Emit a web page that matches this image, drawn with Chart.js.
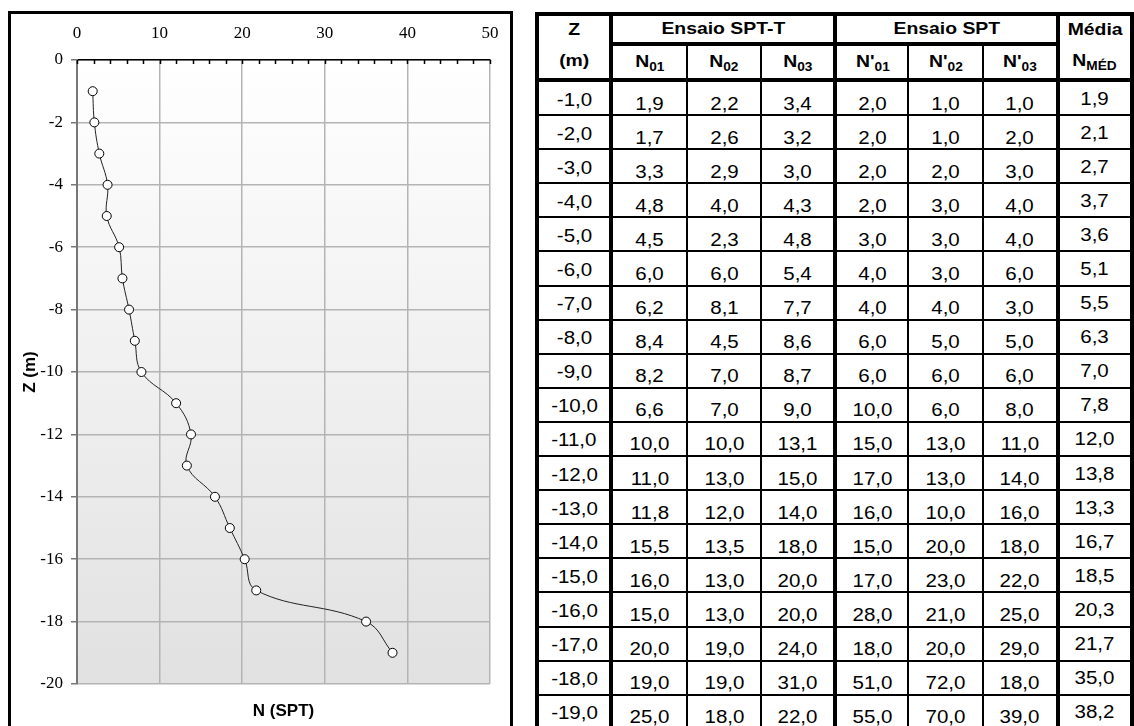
<!DOCTYPE html>
<html>
<head>
<meta charset="utf-8">
<script src="https://cdn.jsdelivr.net/npm/chart.js@4.4.0/dist/chart.umd.min.js"></script>
<style>
html, body { margin: 0; padding: 0; background: #fff; width: 1134px; height: 726px; overflow: hidden; }
#box { position: absolute; left: 8px; top: 11px; width: 499px; height: 730px; border: 3px solid #000; }
#chart { position: absolute; left: 0; top: 0; }
#tbl { position: absolute; left: 535px; top: 12px; border-collapse: collapse; table-layout: fixed;
  font-family: "Liberation Sans", Arial, sans-serif; color: #000; border: 4px solid #000; }
#tbl td, #tbl th { border: 2px solid #000; padding: 0; text-align: center; vertical-align: middle; white-space: nowrap; overflow: visible; }
#tbl th { font-size: 17px; font-weight: bold; }
#tbl td { font-size: 18px; }
#tbl .g { border-left: 4px solid #000; }
#tbl tr.h1 th { border-bottom: 4px solid #000; height: 26px; }
#tbl tr.h1 th.top { border-bottom-style: hidden; }
#tbl tr.h2 th { border-bottom: 4px solid #000; height: 32px; }
#tbl tr.d td { height: 32.1px; }
#tbl sub { font-size: 12px; vertical-align: -4px; line-height: 0; }
.s { display: inline-block; transform: scaleX(1.14); position: relative; }
.sz { top: 2px; }
.sn { top: 6px; }
.sm { top: 1px; }
</style>
</head>
<body>
<div id="box"></div>
<canvas id="chart" width="520" height="726"></canvas>
<table id="tbl">
  <colgroup>
    <col style="width:75px"><col style="width:77px"><col style="width:75px"><col style="width:75px">
    <col style="width:74px"><col style="width:76px"><col style="width:75px"><col style="width:75px">
  </colgroup>
  <thead>
    <tr class="h1"><th class="top"><span class="s">Z</span></th><th colspan="3" class="g"><span class="s">Ensaio SPT-T</span></th><th colspan="3" class="g"><span class="s">Ensaio SPT</span></th><th class="g top"><span class="s">Média</span></th></tr>
    <tr class="h2"><th><span class="s">(m)</span></th><th class="g"><span class="s">N<sub>01</sub></span></th><th><span class="s">N<sub>02</sub></span></th><th><span class="s">N<sub>03</sub></span></th><th class="g"><span class="s">N'<sub>01</sub></span></th><th><span class="s">N'<sub>02</sub></span></th><th><span class="s">N'<sub>03</sub></span></th><th class="g"><span class="s">N<sub>MÉD</sub></span></th></tr>
  </thead>
  <tbody id="rows"></tbody>
</table>
<script>
// profundidade (m) e ensaios
const depth = [-1, -2, -3, -4, -5, -6, -7, -8, -9, -10, -11, -12, -13, -14, -15, -16, -17, -18, -19];
const n01 = [1.9, 1.7, 3.3, 4.8, 4.5, 6.0, 6.2, 8.4, 8.2, 6.6, 10.0, 11.0, 11.8, 15.5, 16.0, 15.0, 20.0, 19.0, 25.0];
const n02 = [2.2, 2.6, 2.9, 4.0, 2.3, 6.0, 8.1, 4.5, 7.0, 7.0, 10.0, 13.0, 12.0, 13.5, 13.0, 13.0, 19.0, 19.0, 18.0];
const n03 = [3.4, 3.2, 3.0, 4.3, 4.8, 5.4, 7.7, 8.6, 8.7, 9.0, 13.1, 15.0, 14.0, 18.0, 20.0, 20.0, 24.0, 31.0, 22.0];
const n01p = [2, 2, 2, 2, 3, 4, 4, 6, 6, 10, 15, 17, 16, 15, 17, 28, 18, 51, 55];
const n02p = [1, 1, 2, 3, 3, 3, 4, 5, 6, 6, 13, 13, 10, 20, 23, 21, 20, 72, 70];
const n03p = [1, 2, 3, 4, 4, 6, 3, 5, 6, 8, 11, 14, 16, 18, 22, 25, 29, 18, 39];
const media = [1.9, 2.1, 2.7, 3.7, 3.6, 5.1, 5.5, 6.3, 7.0, 7.8, 12.0, 13.8, 13.3, 16.7, 18.5, 20.3, 21.7, 35.0, 38.2];

const nTicks = [0, 10, 20, 30, 40, 50];
const zTicks = [0, -2, -4, -6, -8, -10, -12, -14, -16, -18, -20];

const fmt = v => v.toFixed(1).replace('.', ',');

// tabela
const body = document.getElementById('rows');
depth.forEach((z, i) => {
  const tr = document.createElement('tr');
  tr.className = 'd';
  const cells = [
    [z, 'sz', ''],
    [n01[i], 'sn', 'g'], [n02[i], 'sn', ''], [n03[i], 'sn', ''],
    [n01p[i], 'sn', 'g'], [n02p[i], 'sn', ''], [n03p[i], 'sn', ''],
    [media[i], 'sm', 'g']
  ];
  cells.forEach(([v, cls, tdc]) => {
    const td = document.createElement('td');
    if (tdc) td.className = tdc;
    const sp = document.createElement('span');
    sp.className = 's ' + cls;
    sp.textContent = fmt(v);
    td.appendChild(sp);
    tr.appendChild(td);
  });
  body.appendChild(tr);
});

// fundo degradê e marcas internas do eixo superior
const plotBg = {
  id: 'plotBg',
  beforeDraw(chart) {
    const { ctx, chartArea: a } = chart;
    const g = ctx.createLinearGradient(0, a.top, 0, a.bottom);
    g.addColorStop(0, '#ffffff');
    g.addColorStop(1, '#e1e1e1');
    ctx.save();
    ctx.fillStyle = g;
    ctx.fillRect(a.left, a.top, a.right - a.left, a.bottom - a.top);
    ctx.restore();
  },
  beforeDatasetsDraw(chart) {
    const { ctx, chartArea: a, scales } = chart;
    const x = scales.x;
    ctx.save();
    ctx.strokeStyle = '#000';
    ctx.lineWidth = 1.5;
    for (let v = x.min; v <= x.max; v += 2) {
      const px = Math.round(x.getPixelForValue(v)) + 0.5;
      ctx.beginPath();
      ctx.moveTo(px, a.top);
      ctx.lineTo(px, a.top + 4);
      ctx.stroke();
    }
    ctx.restore();
  }
};

const serif = { family: 'Liberation Serif', size: 17 };
const boldSans = { family: 'Liberation Sans', size: 17, weight: 'bold' };

new Chart(document.getElementById('chart').getContext('2d'), {
  type: 'scatter',
  data: {
    datasets: [{
      data: media.map((v, i) => ({ x: v, y: depth[i] })),
      showLine: true,
      tension: 0.4,
      borderColor: '#222',
      borderWidth: 1,
      pointRadius: 4.5,
      pointBackgroundColor: '#fff',
      pointBorderColor: '#000',
      pointBorderWidth: 1
    }]
  },
  options: {
    responsive: false,
    animation: false,
    layout: { padding: { left: 0, right: 30, top: 0, bottom: 0 } },
    plugins: { legend: { display: false }, tooltip: { enabled: false } },
    scales: {
      x: {
        type: 'linear', position: 'top', min: 0, max: 50,
        afterBuildTicks: s => { s.ticks = nTicks.map(v => ({ value: v })); },
        afterFit: s => { s.height = 60; },
        ticks: { color: '#000', font: serif, padding: 16, maxRotation: 0 },
        grid: { color: '#b4b4b4', lineWidth: 1.5, drawTicks: false },
        border: { color: '#000', width: 1.5 }
      },
      xb: {
        type: 'linear', position: 'bottom', min: 0, max: 50,
        afterFit: s => { s.height = 42; },
        ticks: { display: false },
        grid: { display: false, drawTicks: false },
        border: { display: false },
        title: { display: true, text: 'N (SPT)', color: '#000', font: boldSans, padding: { top: 0, bottom: 4 } }
      },
      y: {
        type: 'linear', min: -20, max: 0,
        afterBuildTicks: s => { s.ticks = zTicks.map(v => ({ value: v })); },
        afterFit: s => { s.width = 77; },
        ticks: { color: '#000', font: serif, padding: 8 },
        grid: { color: '#b4b4b4', lineWidth: 1.5, tickLength: 6, tickColor: '#777' },
        border: { color: '#777', width: 2 },
        title: { display: true, text: 'Z (m)', color: '#000', font: boldSans, padding: { top: 20, bottom: 0 } }
      }
    }
  },
  plugins: [plotBg]
});
</script>
</body>
</html>
